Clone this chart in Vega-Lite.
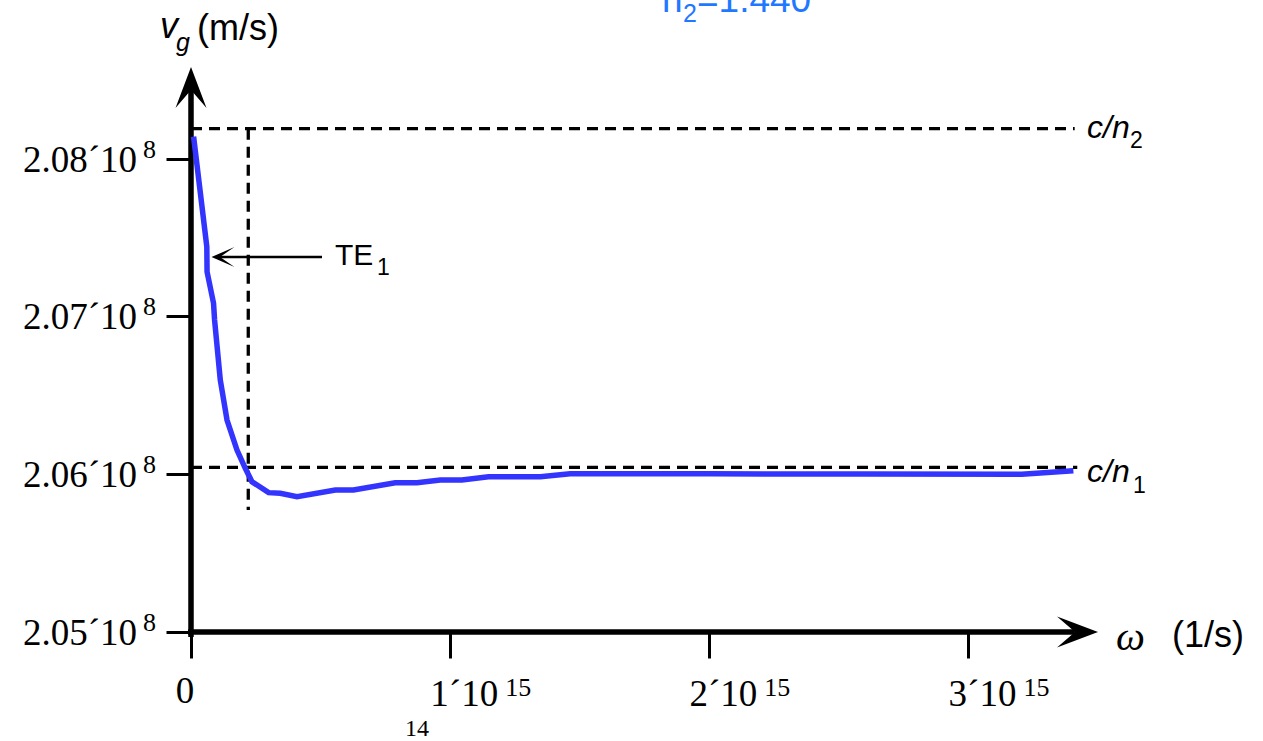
{
  "$schema": "https://vega.github.io/schema/vega-lite/v6.json",
  "width": 907,
  "height": 565,
  "autosize": {"type": "none"},
  "padding": {"left": 191, "top": 67, "right": 165, "bottom": 109},
  "background": "white",
  "config": {"view": {"stroke": null}},
  "datasets": {
    "curve": [
      {"w": 1.0e13, "v": 2.08139e8},
      {"w": 6.1e13, "v": 2.07442e8},
      {"w": 6.2e13, "v": 2.07283e8},
      {"w": 8.7e13, "v": 2.07083e8},
      {"w": 9.1e13, "v": 2.06977e8},
      {"w": 1.13e14, "v": 2.06597e8},
      {"w": 1.39e14, "v": 2.06343e8},
      {"w": 1.775e14, "v": 2.06153e8},
      {"w": 2.095e14, "v": 2.06037e8},
      {"w": 2.353e14, "v": 2.05952e8},
      {"w": 2.994e14, "v": 2.05883e8},
      {"w": 3.445e14, "v": 2.05879e8},
      {"w": 4.09e14, "v": 2.05857e8},
      {"w": 5.57e14, "v": 2.05900e8},
      {"w": 6.27e14, "v": 2.05900e8},
      {"w": 7.88e14, "v": 2.05946e8},
      {"w": 8.72e14, "v": 2.05946e8},
      {"w": 9.62e14, "v": 2.05963e8},
      {"w": 1.0455e15, "v": 2.05963e8},
      {"w": 1.148e15, "v": 2.05984e8},
      {"w": 1.348e15, "v": 2.05984e8},
      {"w": 1.463e15, "v": 2.06003e8},
      {"w": 2.0e15, "v": 2.06002e8},
      {"w": 2.6e15, "v": 2.06001e8},
      {"w": 3.206e15, "v": 2.06000e8},
      {"w": 3.405e15, "v": 2.06022e8}
    ],
    "guides": [
      {"w": 0, "w2": 3.41e15, "v": 2.08189e8, "v2": 2.08189e8},
      {"w": 0, "w2": 3.42e15, "v": 2.06043e8, "v2": 2.06043e8},
      {"w": 2.21e14, "w2": 2.21e14, "v": 2.08189e8, "v2": 2.05773e8}
    ],
    "axisLines": [
      {"w": -0.0116e15, "w2": 3.411e15, "v": 2.05e8, "v2": 2.05e8},
      {"w": 0, "w2": 0, "v": 2.04968e8, "v2": 2.08435e8}
    ],
    "arrows": [
      {"w": 0.112e15, "w2": 0.5055e15, "v": 2.07376e8, "v2": 2.07376e8}
    ],
    "heads": [
      {"w": 0, "v": 2.0858e8, "dir": "up"},
      {"w": 3.5e15, "v": 2.05e8, "dir": "right"},
      {"w": 0.0791e15, "v": 2.07376e8, "dir": "left"}
    ],
    "yticks": [
      {"w": 0, "v": 2.05e8, "main": "2.05´10", "exp": "8"},
      {"w": 0, "v": 2.06e8, "main": "2.06´10", "exp": "8"},
      {"w": 0, "v": 2.07e8, "main": "2.07´10", "exp": "8"},
      {"w": 0, "v": 2.08e8, "main": "2.08´10", "exp": "8"}
    ],
    "xticks": [
      {"w": 0, "v": 2.05e8, "main": "0", "exp": ""},
      {"w": 1e15, "v": 2.05e8, "main": "1´10", "exp": "15"},
      {"w": 2e15, "v": 2.05e8, "main": "2´10", "exp": "15"},
      {"w": 3e15, "v": 2.05e8, "main": "3´10", "exp": "15"}
    ],
    "notes": [
      {"t": "v", "s": "varI", "w": -0.1196e15, "v": 2.08764e8},
      {"t": "g", "s": "varSubI", "w": -0.0579e15, "v": 2.08682e8},
      {"t": "(m/s)", "s": "unit", "w": 0.0232e15, "v": 2.08752e8},
      {"t": "ω", "s": "omega", "w": 3.5695e15, "v": 2.04886e8},
      {"t": "(1/s)", "s": "unit", "w": 3.7856e15, "v": 2.04905e8},
      {"t": "c/n", "s": "cn", "w": 3.4576e15, "v": 2.08131e8},
      {"t": "2", "s": "sub", "w": 3.6235e15, "v": 2.08067e8},
      {"t": "c/n", "s": "cn", "w": 3.4576e15, "v": 2.05951e8},
      {"t": "1", "s": "sub", "w": 3.6351e15, "v": 2.05881e8},
      {"t": "TE", "s": "te", "w": 0.5557e15, "v": 2.07326e8},
      {"t": "1", "s": "sub", "w": 0.7178e15, "v": 2.07262e8},
      {"t": "14", "s": "stray", "w": 0.8258e15, "v": 2.04342e8},
      {"t": "n", "s": "title", "w": 1.8176e15, "v": 2.08929e8},
      {"t": "2", "s": "titleSub", "w": 1.8986e15, "v": 2.08866e8},
      {"t": "=1.440", "s": "title", "w": 1.9526e15, "v": 2.08929e8}
    ]
  },
  "encoding": {
    "x": {
      "field": "w", "type": "quantitative",
      "scale": {"domain": [0, 3.5e15], "nice": false, "zero": false},
      "axis": {"values": [0, 1e15, 2e15, 3e15], "labels": false, "domain": false, "grid": false, "title": null, "tickSize": 26, "tickWidth": 3, "tickColor": "black"}
    },
    "y": {
      "field": "v", "type": "quantitative",
      "scale": {"domain": [2.05e8, 2.0858e8], "nice": false, "zero": false},
      "axis": {"values": [2.05e8, 2.06e8, 2.07e8, 2.08e8], "labels": false, "domain": false, "grid": false, "title": null, "tickSize": 25, "tickWidth": 3, "tickColor": "black"}
    }
  },
  "layer": [
    {
      "data": {"name": "axisLines"},
      "mark": {"type": "rule", "color": "black", "strokeWidth": 5.5},
      "encoding": {"x2": {"field": "w2"}, "y2": {"field": "v2"}}
    },
    {
      "data": {"name": "guides"},
      "mark": {"type": "rule", "color": "black", "strokeWidth": 3.3, "strokeDash": [11, 7]},
      "encoding": {"x2": {"field": "w2"}, "y2": {"field": "v2"}}
    },
    {
      "data": {"name": "curve"},
      "mark": {"type": "line", "color": "#3434ff", "strokeWidth": 5.5},
      "encoding": {}
    },
    {
      "data": {"name": "arrows"},
      "mark": {"type": "rule", "color": "black", "strokeWidth": 2.5},
      "encoding": {"x2": {"field": "w2"}, "y2": {"field": "v2"}}
    },
    {
      "data": {"name": "heads"},
      "mark": {"type": "point", "filled": true, "size": 100, "color": "black", "opacity": 1},
      "encoding": {
        "shape": {
          "field": "dir", "type": "nominal", "legend": null,
          "scale": {"domain": ["up", "right", "left"], "range": ["M0,0 L3.1,8.2 L0,4.6 L-3.1,8.2 Z", "M0,0 L-8.2,-3.1 L-4.6,0 L-8.2,3.1 Z", "M0,0 L4.6,-2 L1.7,0 L4.6,2 Z"]}
        }
      }
    },
    {
      "data": {"name": "yticks"},
      "mark": {"type": "text", "align": "right", "baseline": "alphabetic", "dx": -54, "dy": 13, "font": "Liberation Serif", "fontSize": 37, "color": "black"},
      "encoding": {"text": {"field": "main"}}
    },
    {
      "data": {"name": "yticks"},
      "mark": {"type": "text", "align": "left", "baseline": "alphabetic", "dx": -48, "dy": -1, "font": "Liberation Serif", "fontSize": 26, "color": "black"},
      "encoding": {"text": {"field": "exp"}}
    },
    {
      "data": {"name": "xticks"},
      "transform": [{"filter": "datum.w > 0"}],
      "mark": {"type": "text", "align": "right", "baseline": "alphabetic", "dx": 48, "dy": 74, "font": "Liberation Serif", "fontSize": 37, "color": "black"},
      "encoding": {"text": {"field": "main"}}
    },
    {
      "data": {"name": "xticks"},
      "transform": [{"filter": "datum.w > 0"}],
      "mark": {"type": "text", "align": "left", "baseline": "alphabetic", "dx": 55, "dy": 64, "font": "Liberation Serif", "fontSize": 26, "color": "black"},
      "encoding": {"text": {"field": "exp"}}
    },
    {
      "data": {"name": "xticks"},
      "transform": [{"filter": "datum.w == 0"}],
      "mark": {"type": "text", "align": "center", "baseline": "alphabetic", "dx": -6, "dy": 71, "font": "Liberation Serif", "fontSize": 37, "color": "black"},
      "encoding": {"text": {"field": "main"}}
    },
    {
      "data": {"name": "notes"},
      "transform": [{"filter": "datum.s == 'unit'"}],
      "mark": {"type": "text", "align": "left", "baseline": "alphabetic", "font": "Liberation Sans", "fontSize": 36, "color": "black"},
      "encoding": {"text": {"field": "t"}}
    },
    {
      "data": {"name": "notes"},
      "transform": [{"filter": "datum.s == 'varI'"}],
      "mark": {"type": "text", "align": "left", "baseline": "alphabetic", "font": "Liberation Sans", "fontStyle": "italic", "fontSize": 36, "color": "black"},
      "encoding": {"text": {"field": "t"}}
    },
    {
      "data": {"name": "notes"},
      "transform": [{"filter": "datum.s == 'varSubI'"}],
      "mark": {"type": "text", "align": "left", "baseline": "alphabetic", "font": "Liberation Sans", "fontStyle": "italic", "fontSize": 25, "color": "black"},
      "encoding": {"text": {"field": "t"}}
    },
    {
      "data": {"name": "notes"},
      "transform": [{"filter": "datum.s == 'cn'"}],
      "mark": {"type": "text", "align": "left", "baseline": "alphabetic", "font": "Liberation Sans", "fontStyle": "italic", "fontSize": 32, "color": "black"},
      "encoding": {"text": {"field": "t"}}
    },
    {
      "data": {"name": "notes"},
      "transform": [{"filter": "datum.s == 'sub'"}],
      "mark": {"type": "text", "align": "left", "baseline": "alphabetic", "font": "Liberation Sans", "fontSize": 23, "color": "black"},
      "encoding": {"text": {"field": "t"}}
    },
    {
      "data": {"name": "notes"},
      "transform": [{"filter": "datum.s == 'te'"}],
      "mark": {"type": "text", "align": "left", "baseline": "alphabetic", "font": "Liberation Sans", "fontSize": 30, "color": "black"},
      "encoding": {"text": {"field": "t"}}
    },
    {
      "data": {"name": "notes"},
      "transform": [{"filter": "datum.s == 'omega'"}],
      "mark": {"type": "text", "align": "left", "baseline": "alphabetic", "font": "Liberation Serif", "fontStyle": "italic", "fontSize": 41, "color": "black"},
      "encoding": {"text": {"field": "t"}}
    },
    {
      "data": {"name": "notes"},
      "transform": [{"filter": "datum.s == 'stray'"}],
      "mark": {"type": "text", "align": "left", "baseline": "alphabetic", "font": "Liberation Serif", "fontSize": 24, "color": "black"},
      "encoding": {"text": {"field": "t"}}
    },
    {
      "data": {"name": "notes"},
      "transform": [{"filter": "datum.s == 'title'"}],
      "mark": {"type": "text", "align": "left", "baseline": "alphabetic", "font": "Liberation Sans", "fontSize": 37, "color": "#1f78ff"},
      "encoding": {"text": {"field": "t"}}
    },
    {
      "data": {"name": "notes"},
      "transform": [{"filter": "datum.s == 'titleSub'"}],
      "mark": {"type": "text", "align": "left", "baseline": "alphabetic", "font": "Liberation Sans", "fontSize": 25, "color": "#1f78ff"},
      "encoding": {"text": {"field": "t"}}
    }
  ]
}
